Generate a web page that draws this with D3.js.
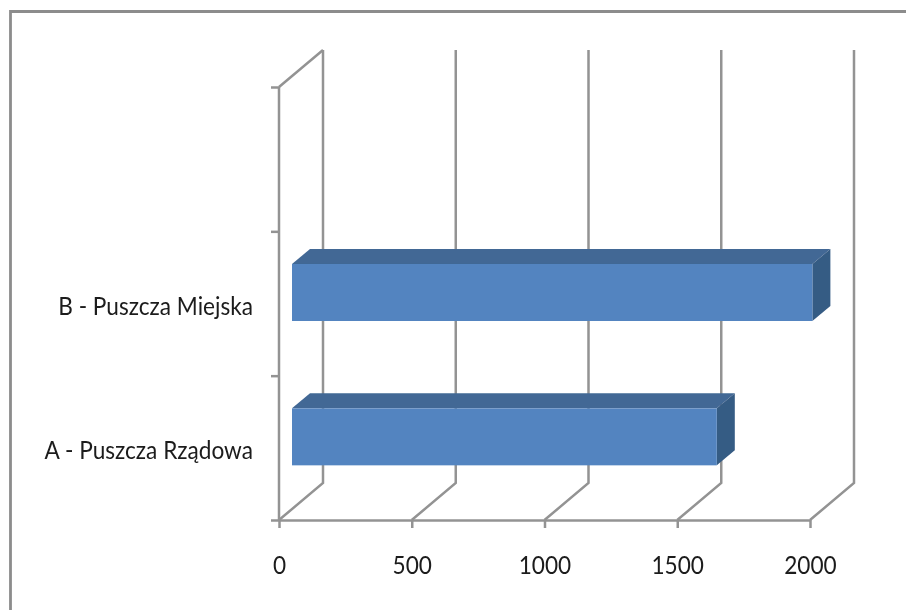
<!DOCTYPE html>
<html>
<head>
<meta charset="utf-8">
<script src="https://cdn.jsdelivr.net/npm/d3@7/dist/d3.min.js"></script>
<style>
body { margin: 0; background: #fff; }
text { font-family: Lato, "Open Sans", sans-serif; fill: #1a1a1a; }
</style>
</head>
<body>
<div id="chart"></div>
<script>
var categories = ["A - Puszcza Rządowa", "B - Puszcza Miejska"];
var values = [1600, 1960];
var xTicks = [0, 500, 1000, 1500, 2000];

var w = 906, h = 610;
var x0 = 279, x1 = 810, yTop = 87, yBottom = 520;
var depthX = 44, depthY = 37; // wall offset of the fake 3d box
var barDepthX = 18, barDepthY = 15, barInset = 13;
var fontSize = "25px";
var textSqueeze = 0.905; // Lato is a bit wider than the font in the picture

var svg = d3.select("#chart").append("svg")
  .attr("width", w)
  .attr("height", h)
  .style("display", "block");

var defs = svg.append("defs");
defs.append("filter").attr("id", "soft")
  .append("feGaussianBlur").attr("stdDeviation", 0.55);

var root = svg.append("g").attr("filter", "url(#soft)");

// outer frame, only top and left edges are in the picture
root.append("path")
  .attr("d", "M10.5,612V11.5H908")
  .attr("fill", "none")
  .attr("stroke", "#8c8c8c")
  .attr("stroke-width", 2.8);

var xScale = d3.scaleLinear().domain([0, 2000]).range([x0, x1]);
// top band is empty in the chart
var yScale = d3.scaleBand().domain(["", categories[1], categories[0]]).range([yTop, yBottom]);

var gray = "#939393";
var lineW = 2.5;

// back wall gridlines and floor diagonals
root.selectAll(".grid").data(xTicks).enter().append("path")
  .attr("class", "grid")
  .attr("d", function(d) {
    var x = xScale(d);
    return "M" + x + "," + yBottom + "L" + (x + depthX) + "," + (yBottom - depthY) + "V" + (yTop - depthY);
  })
  .attr("fill", "none")
  .attr("stroke", gray)
  .attr("stroke-width", lineW);

// left wall top edge
root.append("path")
  .attr("d", "M" + x0 + "," + yTop + "L" + (x0 + depthX) + "," + (yTop - depthY))
  .attr("fill", "none").attr("stroke", gray).attr("stroke-width", lineW);

var axisX = d3.axisBottom(xScale).tickValues(xTicks).tickSize(8).tickPadding(28).tickSizeOuter(0).tickFormat(d3.format("d"));
var gx = root.append("g").attr("transform", "translate(0," + yBottom + ")").call(axisX);
gx.select(".domain").attr("stroke", gray).attr("stroke-width", lineW);
gx.selectAll(".tick line").attr("stroke", gray).attr("stroke-width", lineW);
gx.selectAll("text").style("font-size", fontSize).attr("fill", "#1a1a1a").style("font-family", "Lato")
  .attr("lengthAdjust", "spacingAndGlyphs")
  .attr("textLength", function() { return this.getComputedTextLength() * textSqueeze; });

var edges = [yTop].concat(yScale.domain().map(function(d) { return yScale(d) + yScale.step(); }));
var axisY = d3.axisLeft(d3.scaleIdentity()).tickValues(edges).tickSize(8).tickFormat("").tickSizeOuter(0);
var gy = root.append("g").attr("transform", "translate(" + x0 + ",0)").call(axisY);
gy.select(".domain").attr("d", "M0," + yTop + "V" + yBottom).attr("stroke", gray).attr("stroke-width", lineW);
gy.selectAll(".tick line").attr("stroke", gray).attr("stroke-width", lineW);

// bars
var barH = yScale.step() * 0.395;
var barData = categories.map(function(c, i) { return { cat: c, val: values[i] }; });
var bars = root.selectAll(".bar").data(barData).enter().append("g").attr("class", "bar")
  .attr("transform", function(d) {
    return "translate(" + (x0 + barInset) + "," + (yScale(d.cat) + yScale.step() * 0.5 - barH / 2 - 11) + ")";
  });

bars.append("path") // top
  .attr("d", function(d) {
    var l = xScale(d.val) - x0;
    return "M0,0L" + barDepthX + "," + (-barDepthY) + "H" + (l + barDepthX) + "L" + l + ",0Z";
  })
  .attr("fill", "#426895");
bars.append("path") // right end
  .attr("d", function(d) {
    var l = xScale(d.val) - x0;
    return "M" + l + ",0L" + (l + barDepthX) + "," + (-barDepthY) + "V" + (barH - barDepthY) + "L" + l + "," + barH + "Z";
  })
  .attr("fill", "#365b84");
bars.append("rect") // front
  .attr("width", function(d) { return xScale(d.val) - x0; })
  .attr("height", barH)
  .attr("fill", "#5384c0");

// category labels
root.selectAll(".cat").data(barData).enter().append("text")
  .attr("class", "cat")
  .attr("x", 253)
  .attr("y", function(d) { return yScale(d.cat) + yScale.step() * 0.5 + 2.5; })
  .attr("dy", "0.35em")
  .attr("text-anchor", "end")
  .style("font-size", fontSize)
  .text(function(d) { return d.cat; })
  .attr("lengthAdjust", "spacingAndGlyphs")
  .attr("textLength", function() { return this.getComputedTextLength() * textSqueeze; });
</script>
</body>
</html>
